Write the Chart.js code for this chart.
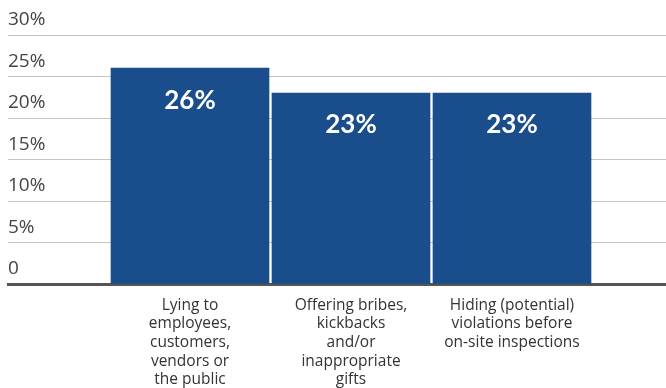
<!DOCTYPE html>
<html>
<head>
<meta charset="utf-8">
<style>
  html, body { margin: 0; padding: 0; background: #fff; }
  #wrap { width: 666px; height: 388px; }
</style>
<script src="https://cdn.jsdelivr.net/npm/chart.js@4"></script>
</head>
<body>
<div id="wrap"><canvas id="chart_schemes"></canvas></div>
<script>
// categories and shares
var categories = [
    ['Lying to', 'employees,', 'customers,', 'vendors or', 'the public'],
    ['Offering bribes,', 'kickbacks', 'and/or', 'inappropriate', 'gifts'],
    ['Hiding (potential)', 'violations before', 'on-site inspections']
];
var shares = [26, 23, 23];
var yTicks = [0, 5, 10, 15, 20, 25, 30];

var barColor = 'rgb(26, 77, 140)';

// white value text inside each bar
var valueLabels = {
    id: 'valueLabels',
    afterDatasetsDraw: function(chart) {
        var ctx = chart.ctx;
        var meta = chart.getDatasetMeta(0);
        ctx.save();
        ctx.fillStyle = '#ffffff';
        ctx.font = 'bold 26px Lato, "Open Sans", sans-serif';
        ctx.textAlign = 'center';
        ctx.textBaseline = 'middle';
        meta.data.forEach(function(bar, i) {
            ctx.fillText(shares[i] + '%', bar.x, bar.y + 32);
        });
        ctx.restore();
    }
};

var points = [];
for (i = 0; i < shares.length; i++) {
    points.push({ x: i + 1, y: shares[i] });
}

var ctx = document.getElementById('chart_schemes').getContext('2d');
var chart = new Chart(ctx, {
    type: 'bar',
    data: {
        datasets: [{
            data: points,
            backgroundColor: barColor,
            borderWidth: 0,
            barThickness: 158
        }]
    },
    options: {
        responsive: true,
        maintainAspectRatio: false,
        animation: false,
        layout: { padding: { top: 35, left: 8, right: 0, bottom: 0 } },
        plugins: {
            legend: { display: false },
            tooltip: { enabled: false }
        },
        scales: {
            x: {
                type: 'linear',
                offset: false,
                min: -0.1304,
                max: 3.9565,
                grid: { display: false },
                border: { display: true, color: '#555555', width: 3 },
                afterBuildTicks: function(scale) {
                    scale.ticks = categories.map(function(c, i) { return { value: i + 1 }; });
                },
                afterFit: function(scale) { scale.height = 104; },
                ticks: {
                    autoSkip: false,
                    maxRotation: 0,
                    padding: 4,
                    color: '#333333',
                    font: { family: '"Open Sans", sans-serif', size: 15.5, lineHeight: 1.2 },
                    callback: function(value) { return categories[value - 1] || ''; }
                }
            },
            y: {
                min: 0,
                max: 30,
                afterBuildTicks: function(scale) {
                    scale.ticks = yTicks.map(function(v) { return { value: v }; });
                },
                afterFit: function(scale) { scale.width = 0; },
                grid: { color: '#c4c4c4', lineWidth: 1, drawTicks: false },
                border: { display: false },
                ticks: {
                    mirror: true,
                    padding: 0,
                    labelOffset: -15,
                    color: '#444444',
                    font: { family: '"Open Sans", sans-serif', size: 19 },
                    callback: function(value) { return value === 0 ? '0' : value + '%'; }
                }
            }
        }
    },
    plugins: [valueLabels]
});
</script>
</body>
</html>
